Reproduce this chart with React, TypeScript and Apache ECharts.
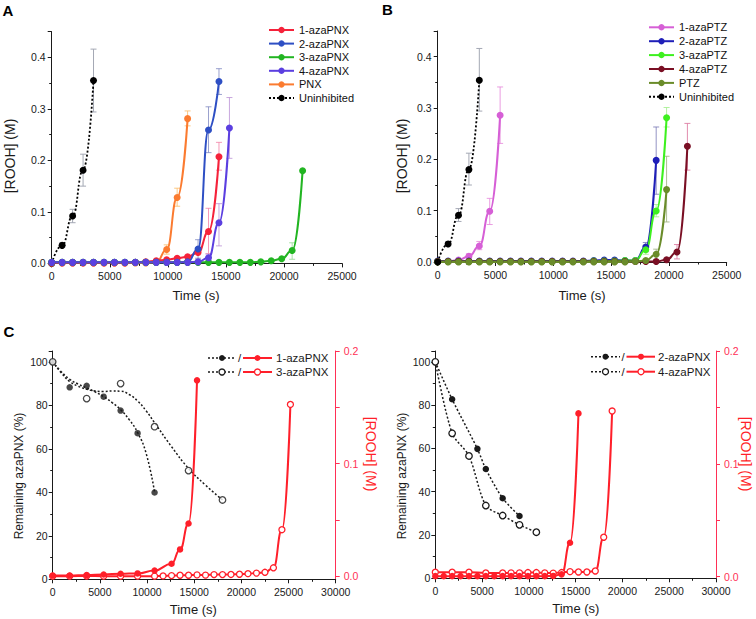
import React, { useEffect, useRef } from 'react';
import * as echarts from 'echarts';

const FONT = '"Liberation Sans", Arial, Helvetica, sans-serif';

// ---------- Panel A : [ROOH] vs time, PNX family ----------
const uninhibitedA = [[0, 0], [900, 0.035], [1800, 0.092], [2700, 0.181], [3600, 0.355]];
const uninhibitedAErr = [[900, 0.031, 0.040], [1800, 0.079, 0.105], [2700, 0.150, 0.212], [3600, 0.294, 0.416]];
const pnx = [[0, 0.001], [900, 0.001], [1800, 0.001], [2700, 0.001], [3600, 0.001], [4500, 0.001], [5400, 0.001], [6300, 0.001], [7200, 0.001], [8100, 0.001], [9000, 0.002], [9900, 0.027], [10800, 0.128], [11700, 0.281]];
const pnxErr = [[9900, 0.018, 0.036], [10800, 0.111, 0.146], [11700, 0.267, 0.296]];
const aza1PNX = [[0, 0.001], [900, 0.001], [1800, 0.001], [2700, 0.001], [3600, 0.001], [4500, 0.001], [5400, 0.001], [6300, 0.001], [7200, 0.002], [8100, 0.003], [9000, 0.005], [9900, 0.007], [10800, 0.010], [11700, 0.013], [12600, 0.021], [13500, 0.062], [14400, 0.207]];
const aza1PNXErr = [[13500, 0.019, 0.107], [14400, 0.181, 0.235]];
const aza2PNX = [[0, 0.002], [900, 0.002], [1800, 0.002], [2700, 0.002], [3600, 0.002], [4500, 0.002], [5400, 0.002], [6300, 0.002], [7200, 0.002], [8100, 0.002], [9000, 0.002], [9900, 0.002], [10800, 0.002], [11700, 0.003], [12600, 0.028], [13500, 0.259], [14400, 0.353]];
const aza2PNXErr = [[12600, 0.010, 0.046], [13500, 0.215, 0.304], [14400, 0.328, 0.378]];
const aza3PNX = [[0, 0.002], [900, 0.002], [1800, 0.002], [2700, 0.002], [3600, 0.002], [4500, 0.002], [5400, 0.002], [6300, 0.002], [7200, 0.002], [8100, 0.002], [9000, 0.002], [9900, 0.002], [10800, 0.002], [11700, 0.002], [12600, 0.002], [13500, 0.002], [14400, 0.002], [15300, 0.002], [16200, 0.002], [17100, 0.002], [18000, 0.003], [18900, 0.005], [19800, 0.009], [20700, 0.025], [21600, 0.180]];
const aza3PNXErr = [[20700, 0.008, 0.040]];
const aza4PNX = [[0, 0.002], [900, 0.002], [1800, 0.002], [2700, 0.002], [3600, 0.002], [4500, 0.002], [5400, 0.002], [6300, 0.002], [7200, 0.002], [8100, 0.002], [9000, 0.002], [9900, 0.002], [10800, 0.002], [11700, 0.002], [12600, 0.003], [13500, 0.011], [14400, 0.079], [15300, 0.263]];
const aza4PNXErr = [[13500, 0.005, 0.018], [14400, 0.034, 0.116], [15300, 0.204, 0.322]];

// ---------- Panel B : [ROOH] vs time, PTZ family ----------
const uninhibitedB = [[0, 0], [900, 0.035], [1800, 0.091], [2700, 0.180], [3600, 0.354]];
const uninhibitedBErr = [[900, 0.031, 0.040], [1800, 0.079, 0.104], [2700, 0.150, 0.212], [3600, 0.294, 0.416]];
const aza1PTZ = [[0, 0.001], [900, 0.001], [1800, 0.004], [2700, 0.011], [3600, 0.031], [4500, 0.099], [5400, 0.286]];
const aza1PTZErr = [[2700, 0.006, 0.016], [3600, 0.024, 0.040], [4500, 0.073, 0.124], [5400, 0.231, 0.341]];
const aza2PTZ = [[0, 0.002], [900, 0.002], [1800, 0.002], [2700, 0.002], [3600, 0.002], [4500, 0.002], [5400, 0.002], [6300, 0.002], [7200, 0.002], [8100, 0.002], [9000, 0.002], [9900, 0.002], [10800, 0.002], [11700, 0.002], [12600, 0.002], [13500, 0.003], [14400, 0.004], [15300, 0.004], [16200, 0.003], [17100, 0.003], [18000, 0.029], [18900, 0.198]];
const aza2PTZErr = [[18000, 0.020, 0.038], [18900, 0.132, 0.263]];
const aza3PTZ = [[0, 0.001], [900, 0.001], [1800, 0.001], [2700, 0.001], [3600, 0.001], [4500, 0.001], [5400, 0.001], [6300, 0.001], [7200, 0.001], [8100, 0.001], [9000, 0.001], [9900, 0.001], [10800, 0.001], [11700, 0.001], [12600, 0.001], [13500, 0.002], [14400, 0.002], [15300, 0.002], [16200, 0.003], [17100, 0.003], [18000, 0.024], [18900, 0.0995], [19800, 0.281]];
const aza3PTZErr = [[18000, 0.015, 0.033], [18900, 0.088, 0.112], [19800, 0.263, 0.301]];
const aza4PTZ = [[0, 0.001], [900, 0.001], [1800, 0.001], [2700, 0.001], [3600, 0.001], [4500, 0.001], [5400, 0.001], [6300, 0.001], [7200, 0.001], [8100, 0.001], [9000, 0.001], [9900, 0.001], [10800, 0.001], [11700, 0.001], [12600, 0.001], [13500, 0.001], [14400, 0.001], [15300, 0.001], [16200, 0.001], [17100, 0.001], [18000, 0.001], [18900, 0.001], [19800, 0.0045], [20700, 0.0195], [21600, 0.2255]];
const aza4PTZErr = [[20700, 0.006, 0.034], [21600, 0.179, 0.270]];
const ptz = [[0, 0], [900, 0], [1800, 0], [2700, 0], [3600, 0], [4500, 0], [5400, 0], [6300, 0], [7200, 0], [8100, 0], [9000, 0], [9900, 0], [10800, 0], [11700, 0], [12600, 0], [13500, 0], [14400, 0], [15300, 0], [16200, 0], [17100, 0.001], [18000, 0.003], [18900, 0.015], [19800, 0.141]];
const ptzErr = [[18900, 0.005, 0.025], [19800, 0.078, 0.206]];

// ---------- Panel C (left) : 1-azaPNX / 3-azaPNX ----------
const remain1 = [[0, 100], [1800, 88.3], [3600, 89.0], [5400, 84.0], [7200, 77.6], [9000, 67.2], [10800, 39.9]];
const remain1Fit = [[0, 100], [900, 95.5], [1800, 92], [2700, 89.8], [3600, 88], [4500, 86.2], [5400, 84], [6300, 81.3], [7200, 78], [8100, 73.5], [9000, 67.5], [9900, 58], [10800, 40]];
const remain3 = [[0, 100], [3600, 83.1], [7200, 90.0], [10800, 70.2], [14400, 50.0], [18000, 36.5]];
const remain3Fit = [[0, 100], [900, 95], [1800, 91], [2700, 88.8], [3600, 87.4], [4500, 86.6], [5400, 86.4], [6300, 86.6], [7200, 86.5], [8100, 85], [9000, 82], [9900, 77.5], [10800, 72], [12600, 61], [14400, 51], [16200, 43.3], [18000, 36.5]];
const rooh1 = [[0, 0.0009], [1800, 0.0009], [3600, 0.0012], [5400, 0.0018], [7200, 0.0024], [9000, 0.0027], [10800, 0.0053], [12600, 0.0113], [13500, 0.024], [14400, 0.047], [15300, 0.174]];
const rooh3 = [[0, 0.0003], [1800, 0.0003], [3600, 0.0004], [5400, 0.0003], [7200, 0.0003], [9000, 0.0003], [10800, 0.0003], [11700, 0.0005], [12600, 0.0008], [13500, 0.0011], [14400, 0.0011], [15300, 0.0014], [16200, 0.0012], [17100, 0.0017], [18000, 0.0017], [18900, 0.0018], [19800, 0.002], [20700, 0.0025], [21600, 0.003], [22500, 0.0037], [23400, 0.0077], [24300, 0.0415], [25200, 0.1526]];

// ---------- Panel C (right) : 2-azaPNX / 4-azaPNX ----------
const remain2 = [[0, 100], [1800, 82.7], [4500, 59.8], [5400, 50.5], [7200, 37.0], [9000, 28.8]];
const remain4 = [[0, 100], [1800, 67.0], [3600, 56.5], [5400, 33.6], [7200, 29.0], [9000, 24.7], [10800, 21.3]];
const rooh2 = [[0, 0.0004], [900, 0.0004], [1800, 0.0004], [2700, 0.0004], [3600, 0.0004], [4500, 0.0004], [5400, 0.0004], [6300, 0.0004], [7200, 0.0004], [8100, 0.0004], [9000, 0.0004], [9900, 0.0004], [10800, 0.0004], [11700, 0.0004], [12600, 0.0006], [13500, 0.002], [14400, 0.030], [15300, 0.1447]];
const rooh4 = [[0, 0.0039], [1800, 0.0039], [3600, 0.0039], [5400, 0.0032], [7200, 0.0032], [8100, 0.0033], [9000, 0.0033], [9900, 0.0036], [10800, 0.0036], [11700, 0.0033], [12600, 0.0031], [13500, 0.0036], [14400, 0.0044], [15300, 0.0041], [16200, 0.0041], [17100, 0.005], [18000, 0.0349], [18900, 0.1468]];

// tick labels
const xTicksAB = [0, 5000, 10000, 15000, 20000, 25000];
const yTicksAB = [0, 0.1, 0.2, 0.3, 0.4];
const xTicksC = [0, 5000, 10000, 15000, 20000, 25000, 30000];
const yLeftTicksC = [0, 20, 40, 60, 80, 100];
const yRightTicksC = [0, 0.1, 0.2];

const RED = '#ff1f2a';
const RED_AXIS = '#ff2f55';
const INK = '#1a1a1a';

function xAxisDef(grid: number, max: number, ticks: number[]) {
  return {
    type: 'value', gridIndex: grid, min: 0, max, interval: 5000,
    axisLine: { show: true, onZero: false, lineStyle: { color: INK, width: 1 } },
    axisTick: { show: true, length: 4, lineStyle: { color: INK } },
    minorTick: { show: true, splitNumber: 2, length: 2.5, lineStyle: { color: INK } },
    splitLine: { show: false }, minorSplitLine: { show: false },
    axisLabel: { customValues: ticks, fontSize: 10.5, color: INK, fontFamily: FONT, margin: 7, formatter: (v: number) => String(v) },
  };
}

function yAxisDef(grid: number, min: number, max: number, interval: number, ticks: number[], digits: number, margin: number) {
  return {
    type: 'value', gridIndex: grid, min, max, interval,
    axisLine: { show: true, onZero: false, lineStyle: { color: INK, width: 1 } },
    axisTick: { show: true, length: 4, lineStyle: { color: INK } },
    minorTick: { show: true, splitNumber: 2, length: 2.5, lineStyle: { color: INK } },
    splitLine: { show: false }, minorSplitLine: { show: false },
    axisLabel: { customValues: ticks, fontSize: 10.5, color: INK, fontFamily: FONT, margin, formatter: (v: number) => v.toFixed(digits) },
  };
}

function rightAxisDef(grid: number, min: number) {
  return {
    type: 'value', gridIndex: grid, position: 'right', min, max: 0.2,
    axisLine: { show: true, onZero: false, lineStyle: { color: RED_AXIS, width: 1 } },
    axisTick: { show: true, length: 4, customValues: [0, 0.05, 0.1, 0.15, 0.2], lineStyle: { color: RED_AXIS } },
    minorTick: { show: false },
    splitLine: { show: false },
    axisLabel: { customValues: yRightTicksC, fontSize: 10.5, color: RED_AXIS, fontFamily: FONT, margin: 8, formatter: (v: number) => v.toFixed(1) },
  };
}

function lineS(name: string, data: number[][], color: string, xi: number, yi: number, extra: any = {}) {
  return {
    type: 'line', name, data, xAxisIndex: xi, yAxisIndex: yi,
    smooth: 0.5, smoothMonotone: 'x', symbol: 'circle', symbolSize: 7,
    lineStyle: { color, width: 2 }, itemStyle: { color }, z: 3, silent: true,
    ...extra,
  };
}

function errS(name: string, data: number[][], color: string, xi: number, yi: number) {
  return {
    type: 'custom', name, data, xAxisIndex: xi, yAxisIndex: yi, z: 1, silent: true,
    encode: { x: 0, y: [1, 2] },
    renderItem: (_p: any, api: any) => {
      const t = api.value(0);
      const a = api.coord([t, api.value(1)]);
      const b = api.coord([t, api.value(2)]);
      const w = 3;
      const st = { stroke: color, lineWidth: 1 };
      return {
        type: 'group',
        children: [
          { type: 'line', shape: { x1: a[0], y1: a[1], x2: b[0], y2: b[1] }, style: st },
          { type: 'line', shape: { x1: a[0] - w, y1: a[1], x2: a[0] + w, y2: a[1] }, style: st },
          { type: 'line', shape: { x1: b[0] - w, y1: b[1], x2: b[0] + w, y2: b[1] }, style: st },
        ],
      };
    },
  };
}

function txt(text: string, x: number, y: number, size: number, opts: any = {}) {
  return {
    type: 'text', x, y, rotation: opts.rotation || 0, silent: true,
    style: {
      text, fill: opts.color || INK,
      font: `${opts.bold ? 'bold ' : ''}${size}px ${FONT}`,
      align: opts.align || 'center', verticalAlign: 'middle',
    },
  };
}

function cLegendRow(p: any, y: number, open: boolean, label: string) {
  const dash = { stroke: INK, lineWidth: 1.5, lineDash: [2, 2] };
  const red = { stroke: RED, lineWidth: 2 };
  return [
    { type: 'line', silent: true, shape: { x1: p.d1, y1: y, x2: p.d2, y2: y }, style: dash },
    { type: 'circle', silent: true, shape: { cx: p.dm, cy: y, r: 3 }, style: open ? { fill: '#fff', stroke: INK, lineWidth: 1.3 } : { fill: INK } },
    txt('/', p.sl, y, 11.5),
    { type: 'line', silent: true, shape: { x1: p.r1, y1: y, x2: p.r2, y2: y }, style: red },
    { type: 'circle', silent: true, shape: { cx: p.rm, cy: y, r: 3 }, style: open ? { fill: '#fff', stroke: RED, lineWidth: 1.3 } : { fill: RED } },
    txt(label, p.tx, y, 11.5, { align: 'left' }),
  ];
}

export default function App() {
  const ref = useRef<HTMLDivElement>(null);
  useEffect(() => {
    if (!ref.current) return;
    const chart = echarts.init(ref.current, undefined, { renderer: 'svg' });
    const legendText = { fontSize: 11, color: '#111', fontFamily: FONT };
    const dotted = { color: '#000', width: 1.8, type: [2, 2] };
    const remainLine = { color: INK, width: 1.5, type: [2, 2] };
    const option: any = {
      animation: false,
      backgroundColor: '#fff',
      textStyle: { fontFamily: FONT },
      grid: [
        { left: 51.7, top: 31.6, width: 290.4, height: 231.8 },
        { left: 437.7, top: 31, width: 289, height: 231 },
        { left: 52.7, top: 351, width: 283, height: 228.3 },
        { left: 435.3, top: 351, width: 280.7, height: 227.3 },
      ],
      xAxis: [
        xAxisDef(0, 25000, xTicksAB),
        xAxisDef(1, 25000, xTicksAB),
        xAxisDef(2, 30000, xTicksC),
        xAxisDef(3, 30000, xTicksC),
      ],
      yAxis: [
        yAxisDef(0, 0, 0.45, 0.1, yTicksAB, 1, 6),
        yAxisDef(1, 0, 0.45, 0.1, yTicksAB, 1, 6),
        yAxisDef(2, 0, 105, 20, yLeftTicksC, 0, 5),
        rightAxisDef(2, -0.0025),
        yAxisDef(3, 0, 105, 20, yLeftTicksC, 0, 5),
        rightAxisDef(3, -0.0015),
      ],
      legend: [
        {
          data: ['1-azaPNX', '2-azaPNX', '3-azaPNX', '4-azaPNX', 'PNX', 'Uninhibited'],
          orient: 'vertical', left: 268, top: 24.5, padding: 0, itemWidth: 25, itemHeight: 8, itemGap: 2.6,
          textStyle: legendText, selectedMode: false,
        },
        {
          data: ['1-azaPTZ', '2-azaPTZ', '3-azaPTZ', '4-azaPTZ', 'PTZ', 'Uninhibited'],
          orient: 'vertical', left: 648, top: 21.8, padding: 0, itemWidth: 25, itemHeight: 8, itemGap: 2.9,
          textStyle: legendText, selectedMode: false,
        },
      ],
      series: [
        // Panel A
        errS('eA0', uninhibitedAErr, '#a4a8b4', 0, 0),
        errS('eA5', pnxErr, 'rgba(250,190,110,0.85)', 0, 0),
        errS('eA1', aza1PNXErr, 'rgba(240,120,160,0.75)', 0, 0),
        errS('eA2', aza2PNXErr, 'rgba(120,130,190,0.75)', 0, 0),
        errS('eA3', aza3PNXErr, 'rgba(150,220,150,0.85)', 0, 0),
        errS('eA4', aza4PNXErr, 'rgba(190,150,215,0.85)', 0, 0),
        lineS('Uninhibited', uninhibitedA, '#000', 0, 0, { lineStyle: dotted, itemStyle: { color: '#000' } }),
        lineS('PNX', pnx, '#fb7b30', 0, 0),
        lineS('1-azaPNX', aza1PNX, '#f5223a', 0, 0),
        lineS('2-azaPNX', aza2PNX, '#2e4fc4', 0, 0),
        lineS('3-azaPNX', aza3PNX, '#22b522', 0, 0),
        lineS('4-azaPNX', aza4PNX, '#5b3fe0', 0, 0),
        // Panel B
        errS('eB0', uninhibitedBErr, '#a4a8b4', 1, 1),
        errS('eB1', aza1PTZErr, 'rgba(230,140,220,0.85)', 1, 1),
        errS('eB2', aza2PTZErr, 'rgba(120,120,180,0.8)', 1, 1),
        errS('eB3', aza3PTZErr, 'rgba(170,240,150,0.9)', 1, 1),
        errS('eB4', aza4PTZErr, 'rgba(220,120,160,0.85)', 1, 1),
        errS('eB5', ptzErr, 'rgba(160,180,130,0.85)', 1, 1),
        lineS('1-azaPTZ', aza1PTZ, '#d65fd6', 1, 1),
        lineS('2-azaPTZ', aza2PTZ, '#1f1fb8', 1, 1),
        lineS('3-azaPTZ', aza3PTZ, '#3ef01f', 1, 1),
        lineS('4-azaPTZ', aza4PTZ, '#7a0f24', 1, 1),
        lineS('PTZ', ptz, '#6a8c2a', 1, 1),
        lineS('Uninhibited', uninhibitedB, '#000', 1, 1, { lineStyle: dotted, itemStyle: { color: '#000' } }),
        // Panel C left
        { type: 'line', name: 'fit1', data: remain1Fit, xAxisIndex: 2, yAxisIndex: 2, smooth: 0.5, symbol: 'none', lineStyle: remainLine, silent: true },
        { type: 'line', name: 'fit3', data: remain3Fit, xAxisIndex: 2, yAxisIndex: 2, smooth: 0.5, symbol: 'none', lineStyle: remainLine, silent: true },
        { type: 'scatter', name: 'rem1', data: remain1, xAxisIndex: 2, yAxisIndex: 2, symbol: 'circle', symbolSize: 6.5, itemStyle: { color: INK }, silent: true, z: 4 },
        { type: 'scatter', name: 'rem3', data: remain3, xAxisIndex: 2, yAxisIndex: 2, symbol: 'circle', symbolSize: 6.5, itemStyle: { color: '#fff', borderColor: INK, borderWidth: 1.3 }, silent: true, z: 4 },
        lineS('rooh3', rooh3, RED, 2, 3, { symbolSize: 6, itemStyle: { color: '#fff', borderColor: RED, borderWidth: 1.3 } }),
        lineS('rooh1', rooh1, RED, 2, 3, { symbolSize: 6.5 }),
        // Panel C right
        lineS('rem2', remain2, INK, 3, 4, { symbolSize: 6.5, smooth: 0.3, smoothMonotone: null, lineStyle: remainLine }),
        lineS('rem4', remain4, INK, 3, 4, { symbolSize: 6.5, smooth: 0.3, smoothMonotone: null, lineStyle: remainLine, itemStyle: { color: '#fff', borderColor: INK, borderWidth: 1.3 } }),
        lineS('rooh4', rooh4, RED, 3, 5, { symbolSize: 6, itemStyle: { color: '#fff', borderColor: RED, borderWidth: 1.3 } }),
        lineS('rooh2', rooh2, RED, 3, 5, { symbolSize: 6.5 }),
      ],
      graphic: [
        txt('A', 8, 10, 15, { bold: true, color: '#000' }),
        txt('B', 387.5, 9.5, 15, { bold: true, color: '#000' }),
        txt('C', 9, 331, 15, { bold: true, color: '#000' }),
        txt('[ROOH] (M)', 9.5, 156, 14, { rotation: Math.PI / 2 }),
        txt('[ROOH] (M)', 401.5, 156, 14, { rotation: Math.PI / 2 }),
        txt('Time (s)', 196, 295.5, 13),
        txt('Time (s)', 582, 295.5, 13),
        txt('Remaining azaPNX (%)', 18.5, 476, 12, { rotation: Math.PI / 2 }),
        txt('Remaining azaPNX (%)', 401.8, 476, 12, { rotation: Math.PI / 2 }),
        txt('[ROOH] (M)', 371, 454, 14, { rotation: -Math.PI / 2, color: RED }),
        txt('[ROOH] (M)', 745.5, 454, 14, { rotation: -Math.PI / 2, color: RED }),
        txt('Time (s)', 193.3, 609, 13),
        txt('Time (s)', 575.8, 608, 13),
        ...cLegendRow({ d1: 208, d2: 235, dm: 222, sl: 239.5, r1: 243, r2: 272, rm: 257.5, tx: 276 }, 358, false, '1-azaPNX'),
        ...cLegendRow({ d1: 208, d2: 235, dm: 222, sl: 239.5, r1: 243, r2: 272, rm: 257.5, tx: 276 }, 372, true, '3-azaPNX'),
        ...cLegendRow({ d1: 591, d2: 620, dm: 605.5, sl: 623, r1: 626.5, r2: 655, rm: 641, tx: 658 }, 356.7, false, '2-azaPNX'),
        ...cLegendRow({ d1: 591, d2: 620, dm: 605.5, sl: 623, r1: 626.5, r2: 655, rm: 641, tx: 658 }, 371.7, true, '4-azaPNX'),
      ],
    };
    chart.setOption(option);
    return () => chart.dispose();
  }, []);
  return <div ref={ref} style={{ position: 'absolute', left: 0, top: 0, width: 756, height: 619, background: '#fff' }} />;
}
